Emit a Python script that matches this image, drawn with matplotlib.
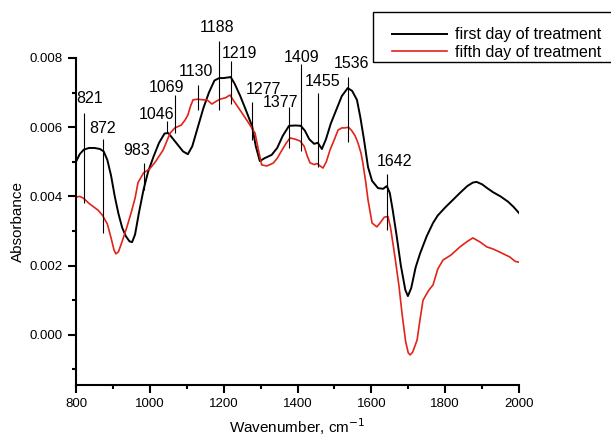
import numpy as np
import matplotlib
matplotlib.use('Agg')
import matplotlib.pyplot as plt
from matplotlib.ticker import MultipleLocator, FormatStrFormatter
from matplotlib.patches import Rectangle

plt.rcParams['font.family'] = ['Liberation Sans', 'DejaVu Sans']

# first day of treatment
wn_first = [800, 810, 821, 835, 850, 865, 875, 885, 895, 905, 915, 925, 935, 945, 952, 960, 970, 983,
            995, 1010, 1025, 1040, 1050, 1060, 1075, 1090, 1103, 1115, 1130, 1145, 1160, 1175, 1188,
            1200, 1219, 1230, 1245, 1260, 1277, 1287, 1298, 1310, 1330, 1345, 1360, 1377, 1395, 1409,
            1420, 1432, 1445, 1455, 1466, 1477, 1490, 1505, 1520, 1536, 1548, 1561, 1570, 1580, 1591,
            1602, 1618, 1632, 1642, 1650, 1658, 1668, 1680, 1692, 1699, 1708, 1720, 1732, 1750, 1767,
            1780, 1800, 1821, 1840, 1860, 1875, 1885, 1900, 1915, 1930, 1950, 1970, 1985, 2000]
abs_first = [.00500, .00522, .00535, .00540, .00540, .00537, .00530, .00505, .00460, .00400, .00350,
             .00310, .00285, .00270, .00268, .00290, .00350, .00420, .00470, .00515, .00555, .00582,
             .00583, .00570, .00550, .00530, .00522, .00545, .00600, .00655, .00700, .00735, .00742,
             .00742, .00745, .00725, .00690, .00650, .00603, .00545, .00502, .00510, .00520, .00540,
             .00575, .00604, .00605, .00604, .00590, .00565, .00552, .00555, .00537, .00565, .00610,
             .00650, .00690, .00713, .00705, .00679, .00630, .00565, .00485, .00445, .00424, .00422,
             .00430, .00410, .00360, .00290, .00200, .00130, .00112, .00135, .00195, .00235, .00285,
             .00323, .00345, .00368, .00390, .00410, .00430, .00440, .00442, .00435, .00423, .00412,
             .00400, .00385, .00370, .00352]

# fifth day of treatment
wn_fifth = [800, 810, 820, 835, 850, 860, 872, 885, 895, 903, 908, 915, 925, 938, 950, 960, 968, 983,
            1000, 1015, 1036, 1055, 1068, 1085, 1095, 1103, 1110, 1117, 1130, 1145, 1155, 1168, 1180,
            1190, 1205, 1217, 1230, 1244, 1266, 1285, 1295, 1303, 1317, 1334, 1345, 1358, 1370, 1380,
            1395, 1407, 1418, 1427, 1434, 1445, 1453, 1461, 1469, 1478, 1488, 1500, 1510, 1520, 1529,
            1538, 1547, 1556, 1564, 1572, 1577, 1585, 1591, 1602, 1615, 1625, 1635, 1645, 1652, 1664,
            1675, 1683, 1693, 1700, 1705, 1712, 1724, 1732, 1740, 1755, 1767, 1780, 1794, 1815, 1840,
            1860, 1875, 1895, 1913, 1930, 1948, 1975, 1990, 2000]
abs_fifth = [.00398, .00400, .00395, .00380, .00368, .00360, .00345, .00320, .00280, .00245, .00234,
             .00240, .00270, .00312, .00355, .00395, .00440, .00468, .00480, .00500, .00534, .00583,
             .00598, .00606, .00620, .00635, .00660, .00679, .00681, .00679, .00679, .00667, .00675,
             .00681, .00685, .00693, .00672, .00650, .00615, .00583, .00530, .00491, .00488, .00496,
             .00510, .00534, .00555, .00569, .00565, .00560, .00545, .00515, .00497, .00492, .00495,
             .00488, .00482, .00500, .00534, .00565, .00592, .00598, .00598, .00600, .00590, .00575,
             .00554, .00525, .00497, .00440, .00390, .00323, .00312, .00325, .00340, .00342, .00310,
             .00225, .00140, .00063, -.00020, -.00052, -.00058, -.00050, -.00015, .00045, .00100,
             .00128, .00144, .00190, .00216, .00230, .00254, .00270, .00280, .00268, .00254, .00248,
             .00239, .00225, .00212, .00210]

# peak markers: label, line x, line y range, label position
peaks = ['821', '872', '983', '1046', '1069', '1130', '1188', '1219', '1277', '1377', '1409', '1455', '1536', '1642']
peak_x = [821, 872, 983, 1046, 1069, 1130, 1188, 1219, 1277, 1377, 1409, 1455, 1536, 1642]
peak_lo = [.00381, .00294, .00419, .00583, .00583, .00650, .00650, .00667, .00563, .00540, .00531, .00485, .00557, .00303]
peak_hi = [.00641, .00566, .00497, .00618, .00693, .00722, .00849, .00791, .00673, .00658, .00783, .00699, .00745, .00465]
label_x = [838, 873, 965, 1017, 1044, 1125, 1183, 1244, 1307, 1355, 1412, 1468, 1545, 1664]
label_y = [.00684, .00595, .00534, .00638, .00716, .00760, .00887, .00812, .00708, .00670, .00800, .00731, .00783, .00500]

fig = plt.figure(figsize=(6.11, 4.38), dpi=100)
ax = fig.add_axes([76/611, 1-385/438, 443/611, 327/438])

ax.plot(wn_first, abs_first, color='black', lw=1.4, label='first day of treatment')
ax.plot(wn_fifth, abs_fifth, color='#e2231a', lw=1.2, label='fifth day of treatment')

ax.vlines(peak_x, peak_lo, peak_hi, color='black', lw=0.8, clip_on=False)
for t, x, y in zip(peaks, label_x, label_y):
    ax.text(x, y, t, ha='center', va='center', fontsize=11.5, clip_on=False)

ax.set_xlim(800, 2000)
ax.set_ylim(-0.00145, 0.008)
ax.xaxis.set_major_locator(MultipleLocator(200))
ax.xaxis.set_minor_locator(MultipleLocator(100))
ax.yaxis.set_major_locator(MultipleLocator(0.002))
ax.yaxis.set_minor_locator(MultipleLocator(0.001))
ax.yaxis.set_major_formatter(FormatStrFormatter('%.3f'))
ax.tick_params(which='major', length=6, width=1.5, labelsize=9.5, direction='out')
ax.tick_params(which='minor', length=3, width=1.5, direction='out')
for s in ['top', 'right']:
    ax.spines[s].set_visible(False)
for s in ['left', 'bottom']:
    ax.spines[s].set_linewidth(1.5)

ax.set_xlabel('Wavenumber, cm$^{-1}$', fontsize=11)
ax.xaxis.set_label_coords(0.5, -0.095)
ax.set_ylabel('Absorbance', fontsize=11)
ax.yaxis.set_label_coords(-0.115, 0.5)

leg = fig.legend(loc='upper left', bbox_to_anchor=(378/611, 1-13/438), frameon=False,
                 fontsize=11.5, handlelength=3.4, handletextpad=0.5, labelspacing=0.15)
fig.patches.append(Rectangle((373/611, 1-62/438), 260/611, 50/438, transform=fig.transFigure,
                             fill=False, edgecolor='black', lw=1.0))

fig.savefig('out.png', dpi=100)
